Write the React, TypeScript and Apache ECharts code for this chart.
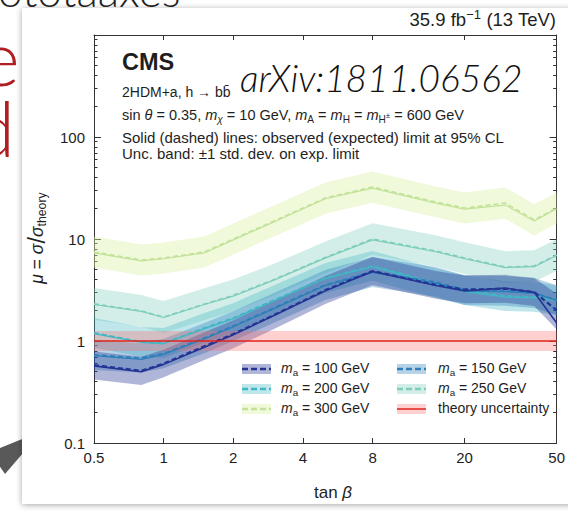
import React, { useEffect, useRef } from 'react';
import * as echarts from 'echarts';

// ---------------- data ----------------
const tanBeta = [0.5, 0.8, 1, 1.5, 2, 3, 5, 8, 15, 20, 30, 40, 50];

const exp100 = [0.58, 0.51, 0.6, 0.89, 1.17, 1.8, 3.16, 4.86, 3.55, 3.2, 3.25, 3.02, 2.0];
const lo100 = [0.42, 0.37, 0.44, 0.65, 0.85, 1.31, 2.31, 3.55, 2.59, 2.34, 2.37, 2.2, 1.3];
const hi100 = [0.79, 0.7, 0.82, 1.22, 1.6, 2.47, 4.33, 6.66, 4.86, 4.38, 4.45, 4.14, 2.9];
const obs100 = [0.57, 0.5, 0.59, 0.87, 1.15, 1.78, 3.1, 4.8, 3.5, 3.1, 3.3, 3.0, 1.5];

const exp150 = [0.73, 0.68, 0.75, 1.07, 1.4, 2.11, 3.54, 4.75, 3.79, 3.16, 3.09, 2.96, 2.52];
const lo150 = [0.52, 0.49, 0.54, 0.76, 1.0, 1.51, 2.53, 3.39, 2.71, 2.26, 2.21, 2.11, 1.8];
const hi150 = [1.02, 0.95, 1.05, 1.5, 1.96, 2.95, 4.96, 6.65, 5.31, 4.42, 4.33, 4.14, 3.53];
const obs150 = [0.72, 0.66, 0.74, 1.05, 1.38, 2.08, 3.5, 4.7, 3.7, 3.1, 3.05, 2.95, 2.5];

const exp200 = [1.2, 0.98, 0.955, 1.34, 1.68, 2.52, 4.15, 5.44, 3.7, 3.16, 2.76, 2.7, 2.52];
const lo200 = [0.86, 0.7, 0.68, 0.96, 1.2, 1.8, 2.96, 3.89, 2.64, 2.26, 1.97, 1.93, 1.8];
const hi200 = [1.68, 1.37, 1.34, 1.88, 2.35, 3.53, 5.81, 7.62, 5.18, 4.42, 3.86, 3.78, 3.53];
const obs200 = [1.18, 0.97, 0.94, 1.32, 1.65, 2.48, 4.1, 5.35, 3.6, 3.05, 2.7, 2.65, 2.5];

const exp250 = [2.31, 1.97, 1.72, 2.3, 2.8, 4.0, 6.6, 10.0, 7.63, 6.51, 5.31, 5.43, 6.97];
const lo250 = [1.62, 1.38, 1.2, 1.61, 1.96, 2.8, 4.62, 6.99, 5.34, 4.55, 3.71, 3.8, 4.87];
const hi250 = [3.3, 2.82, 2.46, 3.29, 4.0, 5.72, 9.44, 14.3, 10.9, 9.31, 7.59, 7.76, 9.97];
const obs250 = [2.28, 1.95, 1.7, 2.28, 2.75, 3.95, 6.5, 9.8, 7.5, 6.4, 5.25, 5.35, 6.9];

const exp300 = [7.46, 6.23, 6.51, 7.46, 10.0, 15.0, 25.2, 32.3, 23.1, 20.1, 22.5, 15.4, 20.1];
const lo300 = [5.25, 4.39, 4.58, 5.25, 7.04, 10.6, 17.7, 22.7, 16.3, 14.2, 15.8, 10.8, 14.2];
const hi300 = [10.6, 8.85, 9.24, 10.6, 14.2, 21.3, 35.8, 45.9, 32.8, 28.5, 32.0, 21.9, 28.5];
const obs300 = [7.3, 6.1, 6.4, 7.3, 9.8, 14.7, 24.8, 31.5, 22.5, 19.6, 21.5, 15.0, 19.8];

const theoryX = [0.5, 50];
const theoryMu = [1, 1];
const theoryLo = [0.8, 0.8];
const theoryHi = [1.25, 1.25];

const xTicks = [0.5, 1, 2, 4, 8, 20, 50];
const yMajor = [0.1, 1, 10, 100, 1000];
const yLabels = [0.1, 1, 10, 100];
const yMinor = [
  0.2, 0.3, 0.4, 0.5, 0.6, 0.7, 0.8, 0.9,
  2, 3, 4, 5, 6, 7, 8, 9,
  20, 30, 40, 50, 60, 70, 80, 90,
  200, 300, 400, 500, 600, 700, 800, 900,
];

// ---------------- styling ----------------
const FF = '"Liberation Sans", Arial, Helvetica, sans-serif';
const TXT = '#1e1e1e';
const C100 = '#253494';
const C150 = '#2c7fb8';
const C200 = '#41b6c4';
const C250 = '#7fcdbb';
const C300 = '#c2e29a';
const B100 = 'rgba(37,52,148,0.36)';
const B150 = 'rgba(44,127,184,0.34)';
const B200 = 'rgba(65,182,196,0.34)';
const B250 = 'rgba(127,205,187,0.34)';
const B300 = 'rgba(220,240,165,0.42)';
const CTH = '#e0231c';
const BTH = 'rgba(255,110,110,0.32)';

const fmt = (v: number) => String(Number(v.toPrecision(6)));

function richSet(size: number) {
  const sub = Math.round(size * 0.7 * 10) / 10;
  return {
    n: { fontSize: size, fontFamily: FF, fill: TXT, lineHeight: size + 4, verticalAlign: 'middle' },
    i: { fontSize: size, fontFamily: FF, fontStyle: 'italic', fill: TXT, lineHeight: size + 4, verticalAlign: 'middle' },
    s: { fontSize: sub, fontFamily: FF, fill: TXT, lineHeight: sub, verticalAlign: 'bottom' },
    si: { fontSize: sub, fontFamily: FF, fontStyle: 'italic', fill: TXT, lineHeight: sub, verticalAlign: 'bottom' },
    ss: { fontSize: sub * 0.8, fontFamily: FF, fill: TXT, lineHeight: size + 4, verticalAlign: 'middle' },
    sup: { fontSize: sub, fontFamily: FF, fill: TXT, lineHeight: sub, verticalAlign: 'top' },
    sl: { fontSize: size * 1.35, fontFamily: FF, fill: TXT, lineHeight: size + 4, verticalAlign: 'middle' },
  };
}

function bandSeries(lo: number[], hi: number[], xs: number[], fill: string, z: number) {
  return {
    type: 'custom',
    silent: true,
    z,
    xAxisIndex: 0,
    yAxisIndex: 0,
    data: xs.map((x, i) => [x, lo[i], hi[i]]),
    encode: { x: 0, y: [1, 2] },
    renderItem: (params: any, api: any) => {
      if (params.dataIndex !== 0) return { type: 'group', children: [] };
      const pts: number[][] = [];
      for (let i = 0; i < xs.length; i++) pts.push(api.coord([xs[i], hi[i]]));
      for (let i = xs.length - 1; i >= 0; i--) pts.push(api.coord([xs[i], lo[i]]));
      return { type: 'polygon', shape: { points: pts }, style: { fill, stroke: 'none' } };
    },
  };
}

function lineSeries(ys: number[], xs: number[], color: string, dashed: boolean, width: number, z: number) {
  return {
    type: 'line',
    silent: true,
    z,
    xAxisIndex: 0,
    yAxisIndex: 0,
    data: xs.map((x, i) => [x, ys[i]]),
    showSymbol: false,
    symbol: 'none',
    lineStyle: { color, width, type: dashed ? [5, 3] : 'solid' },
  };
}

const legendRows = [369, 389, 409];
const legendSymX = [242, 397];
const legendTxtX = [281, 438];
const legendItems = [
  { text: '{i|m}{s|a}{n| = 100 GeV}', line: C100, band: B100, dashed: true, col: 0, row: 0 },
  { text: '{i|m}{s|a}{n| = 150 GeV}', line: C150, band: B150, dashed: true, col: 1, row: 0 },
  { text: '{i|m}{s|a}{n| = 200 GeV}', line: C200, band: B200, dashed: true, col: 0, row: 1 },
  { text: '{i|m}{s|a}{n| = 250 GeV}', line: C250, band: B250, dashed: true, col: 1, row: 1 },
  { text: '{i|m}{s|a}{n| = 300 GeV}', line: C300, band: B300, dashed: true, col: 0, row: 2 },
  { text: '{n|theory uncertainty}', line: CTH, band: BTH, dashed: false, col: 1, row: 2 },
];

function legendGraphics() {
  const out: any[] = [];
  legendItems.forEach((it) => {
    const x = legendSymX[it.col];
    const y = legendRows[it.row];
    out.push({ type: 'rect', z: 100, shape: { x, y: y - 5, width: 29, height: 10 }, style: { fill: it.band } });
    out.push({
      type: 'line', z: 101,
      shape: { x1: x, y1: y, x2: x + 29, y2: y },
      style: { stroke: it.line, lineWidth: it.dashed ? 2.5 : 1.5, lineDash: it.dashed ? [6, 3] : null },
    });
    out.push({
      type: 'text', z: 101, x: legendTxtX[it.col], y: y - 1,
      style: { text: it.text, rich: richSet(14), align: 'left', verticalAlign: 'middle' },
    });
  });
  return out;
}

const axisBase = {
  type: 'log',
  logBase: 10,
  splitLine: { show: false },
  minorTick: { show: false },
  minorSplitLine: { show: false },
  axisPointer: { show: false },
};

const option: any = {
  animation: false,
  backgroundColor: '#ffffff',
  grid: { left: 94, right: 9, top: 35, bottom: 68, containLabel: false },
  xAxis: [
    {
      ...axisBase, min: 0.5, max: 50, position: 'bottom',
      axisLine: { show: true, lineStyle: { color: '#333', width: 1 } },
      axisTick: { show: true, inside: true, length: 5, customValues: xTicks, lineStyle: { color: '#333' } },
      axisLabel: { show: true, customValues: xTicks, formatter: fmt, fontSize: 15, fontFamily: FF, color: TXT, margin: 7 },
    },
    {
      ...axisBase, min: 0.5, max: 50, position: 'top',
      axisLine: { show: true, lineStyle: { color: '#333', width: 1 } },
      axisTick: { show: true, inside: true, length: 5, customValues: xTicks, lineStyle: { color: '#333' } },
      axisLabel: { show: false },
    },
  ],
  yAxis: [
    {
      ...axisBase, min: 0.1, max: 1000, position: 'left',
      axisLine: { show: true, lineStyle: { color: '#333', width: 1 } },
      axisTick: { show: true, inside: true, length: 7, customValues: yMajor, lineStyle: { color: '#333' } },
      axisLabel: { show: true, customValues: yLabels, formatter: fmt, fontSize: 15, fontFamily: FF, color: TXT, margin: 9 },
    },
    {
      ...axisBase, min: 0.1, max: 1000, position: 'left',
      axisLine: { show: false },
      axisTick: { show: true, inside: true, length: 3.5, customValues: yMinor, lineStyle: { color: '#333' } },
      axisLabel: { show: false },
    },
    {
      ...axisBase, min: 0.1, max: 1000, position: 'right',
      axisLine: { show: true, lineStyle: { color: '#333', width: 1 } },
      axisTick: { show: true, inside: true, length: 7, customValues: yMajor, lineStyle: { color: '#333' } },
      axisLabel: { show: false },
    },
    {
      ...axisBase, min: 0.1, max: 1000, position: 'right',
      axisLine: { show: false },
      axisTick: { show: true, inside: true, length: 3.5, customValues: yMinor, lineStyle: { color: '#333' } },
      axisLabel: { show: false },
    },
  ],
  series: [
    bandSeries(lo300, hi300, tanBeta, B300, 1),
    bandSeries(lo250, hi250, tanBeta, B250, 1),
    bandSeries(lo200, hi200, tanBeta, B200, 1),
    bandSeries(lo150, hi150, tanBeta, B150, 1),
    bandSeries(lo100, hi100, tanBeta, B100, 1),
    bandSeries(theoryLo, theoryHi, theoryX, BTH, 1),
    lineSeries(exp300, tanBeta, C300, true, 1.6, 3),
    lineSeries(obs300, tanBeta, C300, false, 1.2, 3),
    lineSeries(exp250, tanBeta, C250, true, 1.6, 3),
    lineSeries(obs250, tanBeta, C250, false, 1.2, 3),
    lineSeries(exp200, tanBeta, C200, true, 1.8, 3),
    lineSeries(obs200, tanBeta, C200, false, 1.3, 3),
    lineSeries(exp150, tanBeta, C150, true, 1.8, 3),
    lineSeries(obs150, tanBeta, C150, false, 1.3, 3),
    lineSeries(exp100, tanBeta, C100, true, 2.2, 4),
    lineSeries(obs100, tanBeta, C100, false, 1.6, 4),
    lineSeries(theoryMu, theoryX, CTH, false, 1.5, 4),
  ],
  graphic: [
    // slide background pieces
    { type: 'text', z: -30, x: -20, y: 56, style: { text: 'e', fontSize: 76, fontFamily: 'Lato, sans-serif', fontWeight: 300, fill: '#b01e22', align: 'left', verticalAlign: 'middle' } },
    { type: 'text', z: -30, x: -27, y: 127, style: { text: 'd', fontSize: 76, fontFamily: 'Lato, sans-serif', fontWeight: 300, fill: '#b01e22', align: 'left', verticalAlign: 'middle' } },
    { type: 'polygon', z: -30, shape: { points: [[42, 431], [-10, 452], [5, 474]] }, style: { fill: '#595959' } },
    // card
    { type: 'rect', z: -20, shape: { x: 22, y: 8, width: 600, height: 496 }, style: { fill: '#ffffff', shadowBlur: 6, shadowColor: 'rgba(0,0,0,0.35)', shadowOffsetY: 1 } },
    { type: 'text', z: -10, x: -2, y: 12, style: { text: 'ototaaxes', fontSize: 44, fontFamily: 'Lato, sans-serif', fontWeight: 300, fill: '#222', align: 'left', verticalAlign: 'bottom' } },
    // header texts
    { type: 'text', z: 100, x: 556, y: 19, style: { text: '{n|35.9 fb}{sup|−1}{n| (13 TeV)}', rich: richSet(18.5), align: 'right', verticalAlign: 'middle' } },
    { type: 'text', z: 100, x: 122, y: 62, style: { text: 'CMS', fontSize: 23.5, fontWeight: 'bold', fontFamily: FF, fill: TXT, align: 'left', verticalAlign: 'middle' } },
    { type: 'text', z: 100, x: 122, y: 92, style: { text: '{n|2HDM+a, h → bb\u0304}', rich: richSet(14), align: 'left', verticalAlign: 'middle' } },
    { type: 'text', z: 100, x: 240, y: 77, style: { text: 'arXiv:1811.06562', fontSize: 37, fontStyle: 'italic', fontWeight: 300, fontFamily: 'Lato, sans-serif', fill: '#111', align: 'left', verticalAlign: 'middle' } },
    { type: 'text', z: 100, x: 122, y: 115, style: { text: '{n|sin }{i|θ}{n| = 0.35, }{i|m}{si|χ}{n| = 10 GeV, }{i|m}{s|A}{n| = }{i|m}{s|H}{n| = }{i|m}{s|H}{ss|±}{n| = 600 GeV}', rich: richSet(14.5), align: 'left', verticalAlign: 'middle' } },
    { type: 'text', z: 100, x: 122, y: 137, style: { text: 'Solid (dashed) lines: observed (expected) limit at 95% CL', fontSize: 15, fontFamily: FF, fill: TXT, align: 'left', verticalAlign: 'middle' } },
    { type: 'text', z: 100, x: 122, y: 153, style: { text: 'Unc. band: ±1 std. dev. on exp. limit', fontSize: 15, fontFamily: FF, fill: TXT, align: 'left', verticalAlign: 'middle' } },
    // axis titles
    { type: 'text', z: 100, x: 37, y: 238, rotation: Math.PI / 2, style: { text: '{i|μ}{n| = }{i|σ}{sl|/}{i|σ}{s|theory}', rich: richSet(17.5), align: 'center', verticalAlign: 'middle' } },
    { type: 'text', z: 100, x: 333, y: 492, style: { text: '{n|tan }{i|β}', rich: richSet(17), align: 'center', verticalAlign: 'middle' } },
    ...legendGraphics(),
  ],
};

export default function App() {
  const ref = useRef<HTMLDivElement>(null);
  useEffect(() => {
    if (!ref.current) return;
    const chart = echarts.init(ref.current, null, { renderer: 'svg' });
    chart.setOption(option);
    return () => chart.dispose();
  }, []);
  return (
    <div
      ref={ref}
      style={{ position: 'fixed', left: 0, top: 0, width: 568, height: 511, background: '#fff' }}
    />
  );
}
